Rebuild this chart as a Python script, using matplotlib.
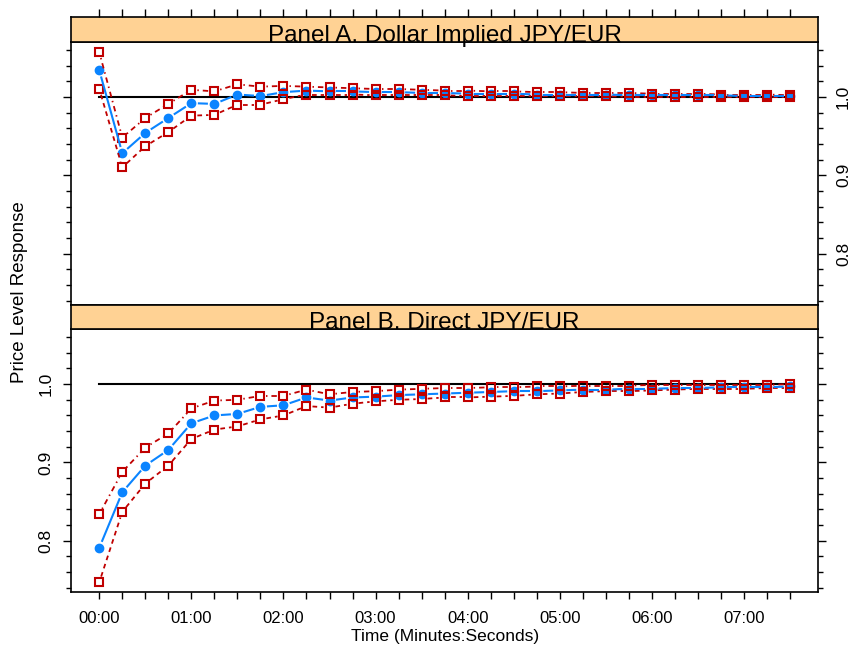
import numpy as np
import matplotlib
matplotlib.use("Agg")
import matplotlib.pyplot as plt
from matplotlib.collections import LineCollection
from matplotlib.ticker import FixedLocator, NullFormatter, FuncFormatter

plt.rcParams['font.family'] = ['Liberation Sans', 'DejaVu Sans']

# impulse response horizon, seconds (15 s steps)
seconds = [0, 15, 30, 45, 60, 75, 90, 105, 120, 135, 150, 165, 180, 195, 210, 225,
           240, 255, 270, 285, 300, 315, 330, 345, 360, 375, 390, 405, 420, 435, 450]

# Panel A: dollar implied JPY/EUR
implied_mid = [1.034, 0.928, 0.954, 0.973, 0.992, 0.991, 1.003, 1.001, 1.006, 1.008, 1.007,
               1.007, 1.006, 1.006, 1.005, 1.005, 1.004, 1.004, 1.004, 1.003, 1.003, 1.003,
               1.003, 1.002, 1.002, 1.002, 1.002, 1.002, 1.001, 1.001, 1.001]
implied_hi = [1.057, 0.948, 0.973, 0.991, 1.009, 1.007, 1.016, 1.013, 1.014, 1.013, 1.012,
              1.011, 1.010, 1.010, 1.009, 1.008, 1.008, 1.007, 1.007, 1.006, 1.006, 1.005,
              1.005, 1.005, 1.004, 1.004, 1.004, 1.003, 1.003, 1.003, 1.002]
implied_lo = [1.010, 0.910, 0.937, 0.955, 0.976, 0.977, 0.990, 0.990, 0.997, 1.003, 1.003,
              1.003, 1.002, 1.002, 1.002, 1.002, 1.001, 1.001, 1.001, 1.001, 1.001, 1.001,
              1.001, 1.000, 1.000, 1.000, 1.000, 1.000, 1.000, 1.000, 1.000]

# Panel B: direct JPY/EUR
direct_mid = [0.791, 0.862, 0.896, 0.916, 0.950, 0.960, 0.962, 0.971, 0.973, 0.983, 0.979,
              0.983, 0.984, 0.986, 0.987, 0.988, 0.989, 0.990, 0.991, 0.991, 0.992, 0.993,
              0.993, 0.994, 0.994, 0.995, 0.995, 0.996, 0.996, 0.996, 0.997]
direct_hi = [0.834, 0.888, 0.919, 0.937, 0.969, 0.979, 0.980, 0.985, 0.985, 0.993, 0.987,
             0.990, 0.991, 0.993, 0.994, 0.995, 0.995, 0.996, 0.996, 0.997, 0.997, 0.998,
             0.998, 0.998, 0.999, 0.999, 0.999, 0.999, 0.999, 0.999, 1.000]
direct_lo = [0.747, 0.837, 0.873, 0.896, 0.930, 0.942, 0.946, 0.955, 0.960, 0.972, 0.970,
             0.975, 0.978, 0.980, 0.981, 0.983, 0.983, 0.984, 0.985, 0.987, 0.988, 0.990,
             0.991, 0.991, 0.992, 0.993, 0.994, 0.994, 0.994, 0.995, 0.995]

panel_titles = ["Panel A. Dollar Implied JPY/EUR", "Panel B. Direct JPY/EUR"]
minute_labels = ["00:00", "01:00", "02:00", "03:00", "04:00", "05:00", "06:00", "07:00"]

BLUE = "#0A84FF"
RED = "#C00000"
STRIP = "#FFD294"

W, H = 857, 648
fig = plt.figure(figsize=(W / 100, H / 100), dpi=100)


def box(left, top, right, bottom):
    return [left / W, 1 - bottom / H, (right - left) / W, (bottom - top) / H]


t = np.array(seconds) / 60.0
xlim = (-0.307, 7.807)
ylim = (0.735, 1.070)
minor_y = [v / 100 for v in range(74, 107, 2) if v not in (80, 90, 100)]


def draw_b(ax, x, y, gap, **kw):
    # lines broken around each point, like R's type = "b"
    pts = ax.transData.transform(np.column_stack([x, y]))
    inv = ax.transData.inverted()
    segs = []
    for p, q in zip(pts[:-1], pts[1:]):
        d = q - p
        L = np.hypot(*d)
        if L <= 2 * gap:
            continue
        u = d / L
        segs.append(inv.transform([p + u * gap, q - u * gap]))
    ax.add_collection(LineCollection(segs, **kw))


def style_panel(ax, labels_left):
    ax.set_xlim(*xlim)
    ax.set_ylim(*ylim)
    for s in ax.spines.values():
        s.set_linewidth(1.2)
    ax.yaxis.set_major_locator(FixedLocator([0.8, 0.9, 1.0]))
    ax.yaxis.set_minor_locator(FixedLocator(minor_y))
    ax.yaxis.set_major_formatter(FuncFormatter(lambda v, p: f"{v:.1f}"))
    ax.tick_params(axis='y', which='both', direction='out', left=True, right=True,
                   labelleft=labels_left, labelright=not labels_left,
                   labelsize=12.5, labelrotation=90, width=1)
    ax.tick_params(axis='y', which='major', length=5.8, pad=7)
    ax.tick_params(axis='y', which='minor', length=3.6)
    for lbl in ax.get_yticklabels():
        lbl.set_va('center')


panels = [
    (box(71, 42, 818.3, 304.5), box(71, 17.3, 818.3, 42), implied_mid, implied_hi, implied_lo),
    (box(71, 329.3, 818.3, 591.7), box(71, 304.5, 818.3, 329.3), direct_mid, direct_hi, direct_lo),
]

axes = []
for i, (pbox, _, mid, hi, lo) in enumerate(panels):
    ax = fig.add_axes(pbox)
    style_panel(ax, labels_left=(i == 1))
    if i == 0:
        ax.tick_params(axis='x', which='both', bottom=False, top=False, labelbottom=False)
    else:
        ax.xaxis.set_major_locator(FixedLocator(list(range(8))))
        ax.xaxis.set_minor_locator(FixedLocator([s / 60 for s in seconds if s % 60]))
        ax.set_xticklabels(minute_labels)
        ax.tick_params(axis='x', which='both', direction='out', length=5, width=1,
                       labelsize=12, pad=9)

    ax.plot([t[0], t[-1]], [1.0, 1.0], color='black', lw=1.5, zorder=1)

    ax.plot(t, mid, ls='none', marker='o', ms=6, color=BLUE, zorder=2)
    draw_b(ax, t, hi, 6, colors=RED, linewidths=1.3, linestyles=[(0, (0.8, 2.2, 3, 2.2))], zorder=3)
    draw_b(ax, t, lo, 6, colors=RED, linewidths=1.3, linestyles=[(0, (2.6, 2.2))], zorder=3)
    ax.plot(t, hi, ls='none', marker='s', ms=5.3, mfc='none', mec=RED, mew=1.5, zorder=3)
    ax.plot(t, lo, ls='none', marker='s', ms=5.3, mfc='none', mec=RED, mew=1.5, zorder=3)
    draw_b(ax, t, mid, 6.5, colors=BLUE, linewidths=1.5, zorder=4)
    axes.append(ax)

# strips drawn last so the titles sit over the panel edges
for i, (_, sbox, *_rest) in enumerate(panels):
    sx = fig.add_axes(sbox)
    sx.set_facecolor(STRIP)
    sx.set_xlim(*xlim)
    sx.set_yticks([])
    for s in sx.spines.values():
        s.set_linewidth(1.2)
    if i == 0:
        sx.xaxis.set_major_locator(FixedLocator(list(t)))
        sx.xaxis.set_major_formatter(NullFormatter())
        sx.tick_params(axis='x', direction='out', bottom=False, top=True,
                       length=5.8, width=1, labelbottom=False)
    else:
        sx.set_xticks([])
    sx.text(0.5, 0.015, panel_titles[i], transform=sx.transAxes, ha='center',
            va='baseline', fontsize=17.5, clip_on=False, zorder=10)

fig.text(20 / W, 1 - 292 / H, "Price Level Response", rotation=90,
         ha='center', va='center', fontsize=13.5)
fig.text(445 / W, 1 - 636 / H, "Time (Minutes:Seconds)", ha='center', va='center',
         fontsize=12.5)

fig.savefig("out.png", dpi=100)
